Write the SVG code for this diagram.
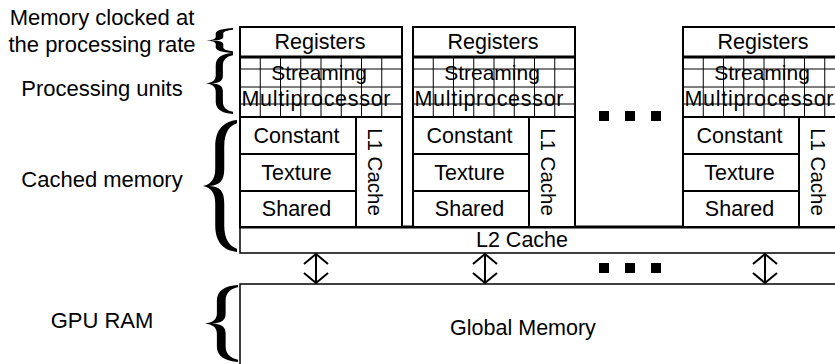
<svg xmlns="http://www.w3.org/2000/svg" width="835" height="364" viewBox="0 0 835 364">
<style>
.t{font-family:"Liberation Sans",Arial,sans-serif;fill:#000}
.lbl{font-size:22px;text-anchor:middle}
.bt{font-size:21.5px;text-anchor:middle}
.mp{font-size:21.5px;text-anchor:start}
.box{fill:#fff;stroke:#000;stroke-width:2}
.wbox{fill:#fff;stroke:#000;stroke-width:1.5}
.l1{stroke:#000;stroke-width:1;fill:none}
.l2{stroke:#000;stroke-width:2;fill:none}
.l3{stroke:#000;stroke-width:3;fill:none}
.sq{fill:#000}
.br{fill:#000}
.arr{stroke:#000;stroke-width:2;fill:none;marker-start:url(#ah);marker-end:url(#ah)}
</style>
<defs>
<marker id="ah" viewBox="-12 -14 14 28" refX="0" refY="0" markerWidth="14" markerHeight="28" markerUnits="userSpaceOnUse" orient="auto-start-reverse">
<path d="M-10,-12 L0,0 L-10,12" fill="none" stroke="#000" stroke-width="2"/>
</marker>
</defs>
<rect width="835" height="364" fill="#fff"/>

<g id="labels">
<text class="t lbl" x="102" y="25">Memory clocked at</text>
<text class="t lbl" x="102" y="52">the processing rate</text>
<text class="t lbl" x="102" y="96">Processing units</text>
<text class="t lbl" x="102" y="187">Cached memory</text>
<text class="t lbl" x="102" y="328">GPU RAM</text>
</g>

<g id="braces">
<path class="br" transform="translate(206,28) scale(27,25)" d="M1,0 C0.62,0.02 0.36,0.1 0.36,0.22 L0.36,0.36 C0.36,0.44 0.22,0.49 0,0.5 C0.22,0.51 0.36,0.56 0.36,0.64 L0.36,0.78 C0.36,0.9 0.62,0.98 1,1 L1,0.93 C0.8,0.91 0.64,0.86 0.64,0.78 L0.64,0.64 C0.64,0.55 0.5,0.51 0.2,0.5 C0.5,0.49 0.64,0.45 0.64,0.36 L0.64,0.22 C0.64,0.14 0.8,0.09 1,0.07 Z"/>
<path class="br" transform="translate(206,53) scale(27,61)" d="M1,0 C0.62,0.01 0.36,0.07 0.36,0.2 L0.36,0.37 C0.36,0.45 0.22,0.49 0,0.5 C0.22,0.51 0.36,0.55 0.36,0.63 L0.36,0.8 C0.36,0.93 0.62,0.99 1,1 L1,0.965 C0.8,0.95 0.625,0.9 0.625,0.8 L0.625,0.63 C0.625,0.54 0.5,0.505 0.2,0.5 C0.5,0.495 0.625,0.46 0.625,0.37 L0.625,0.2 C0.625,0.1 0.8,0.05 1,0.035 Z"/>
<path class="br" transform="translate(203,120) scale(34,132)" d="M1,0 C0.62,0.01 0.36,0.07 0.36,0.2 L0.36,0.37 C0.36,0.45 0.22,0.49 0,0.5 C0.22,0.51 0.36,0.55 0.36,0.63 L0.36,0.8 C0.36,0.93 0.62,0.99 1,1 L1,0.975 C0.8,0.96 0.625,0.91 0.625,0.8 L0.625,0.63 C0.625,0.54 0.5,0.505 0.2,0.5 C0.5,0.495 0.625,0.46 0.625,0.37 L0.625,0.2 C0.625,0.09 0.8,0.04 1,0.025 Z"/>
<path class="br" transform="translate(205,285) scale(33,77)" d="M1,0 C0.62,0.01 0.36,0.07 0.36,0.2 L0.36,0.37 C0.36,0.45 0.22,0.49 0,0.5 C0.22,0.51 0.36,0.55 0.36,0.63 L0.36,0.8 C0.36,0.93 0.62,0.99 1,1 L1,0.97 C0.8,0.955 0.625,0.9 0.625,0.8 L0.625,0.63 C0.625,0.54 0.5,0.505 0.2,0.5 C0.5,0.495 0.625,0.46 0.625,0.37 L0.625,0.2 C0.625,0.1 0.8,0.045 1,0.03 Z"/>
</g>

<g id="global-memory">
<rect class="wbox" x="240" y="284" width="700" height="100"/>
<text class="t bt" x="523" y="335">Global Memory</text>
</g>

<g id="l2-cache">
<rect class="wbox" x="240" y="227" width="700" height="26"/>
<line class="l3" x1="239" y1="227" x2="835" y2="227"/>
<text class="t bt" x="522" y="247">L2 Cache</text>
</g>

<g id="sm1" transform="translate(240,0)">
<rect class="box" x="0" y="27" width="162" height="200"/>
<text class="t bt" x="80" y="48.5">Registers</text>
<text class="t bt" x="79" y="80" style="font-size:21px">Streaming</text>
<text class="t mp" x="1.5" y="105.5" textLength="149" lengthAdjust="spacing">Multiprocessor</text>
<text class="t bt" x="56.5" y="143">Constant</text>
<text class="t bt" x="56.5" y="180">Texture</text>
<text class="t bt" x="56.5" y="216">Shared</text>
<text class="t bt" transform="translate(128,172) rotate(90)" x="0" y="0" style="font-size:20.5px">L1 Cache</text>
<path class="l1" d="M20.25,57V117M40.5,57V117M60.75,57V117M81,57V117M101.25,57V117M121.5,57V117M141.75,57V117M0,69H162M0,87H162M0,104H162"/>
<path class="l2" d="M0,117H162M116,117V227M0,154H116M0,191H116"/>
<line class="l3" x1="0" y1="57" x2="162" y2="57"/>
</g>

<g id="sm2" transform="translate(413,0)">
<rect class="box" x="0" y="27" width="162" height="200"/>
<text class="t bt" x="80" y="48.5">Registers</text>
<text class="t bt" x="79" y="80" style="font-size:21px">Streaming</text>
<text class="t mp" x="1.5" y="105.5" textLength="149" lengthAdjust="spacing">Multiprocessor</text>
<text class="t bt" x="56.5" y="143">Constant</text>
<text class="t bt" x="56.5" y="180">Texture</text>
<text class="t bt" x="56.5" y="216">Shared</text>
<text class="t bt" transform="translate(128,172) rotate(90)" x="0" y="0" style="font-size:20.5px">L1 Cache</text>
<path class="l1" d="M20.25,57V117M40.5,57V117M60.75,57V117M81,57V117M101.25,57V117M121.5,57V117M141.75,57V117M0,69H162M0,87H162M0,104H162"/>
<path class="l2" d="M0,117H162M116,117V227M0,154H116M0,191H116"/>
<line class="l3" x1="0" y1="57" x2="162" y2="57"/>
</g>

<g id="sm3" transform="translate(683,0)">
<rect class="box" x="0" y="27" width="162" height="200"/>
<text class="t bt" x="80" y="48.5">Registers</text>
<text class="t bt" x="79" y="80" style="font-size:21px">Streaming</text>
<text class="t mp" x="1.5" y="105.5" textLength="149" lengthAdjust="spacing">Multiprocessor</text>
<text class="t bt" x="56.5" y="143">Constant</text>
<text class="t bt" x="56.5" y="180">Texture</text>
<text class="t bt" x="56.5" y="216">Shared</text>
<text class="t bt" transform="translate(128,172) rotate(90)" x="0" y="0" style="font-size:20.5px">L1 Cache</text>
<path class="l1" d="M20.25,57V117M40.5,57V117M60.75,57V117M81,57V117M101.25,57V117M121.5,57V117M141.75,57V117M0,69H162M0,87H162M0,104H162"/>
<path class="l2" d="M0,117H162M116,117V227M0,154H116M0,191H116"/>
<line class="l3" x1="0" y1="57" x2="162" y2="57"/>
</g>

<g id="ellipsis-top">
<rect class="sq" x="599" y="111" width="10" height="10"/>
<rect class="sq" x="625" y="111" width="10" height="10"/>
<rect class="sq" x="651" y="111" width="10" height="10"/>
</g>
<g id="ellipsis-bottom">
<rect class="sq" x="599" y="263" width="10" height="10"/>
<rect class="sq" x="625" y="263" width="10" height="10"/>
<rect class="sq" x="651" y="263" width="10" height="10"/>
</g>

<g id="connectors">
<line class="arr" x1="316" y1="254" x2="316" y2="283"/>
<line class="arr" x1="485" y1="254" x2="485" y2="283"/>
<line class="arr" x1="765" y1="254" x2="765" y2="283"/>
</g>
</svg>
